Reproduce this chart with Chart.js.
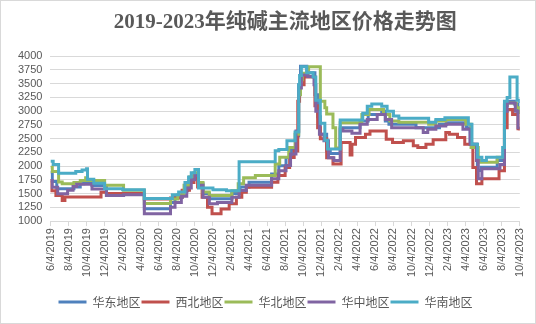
<!DOCTYPE html>
<html>
<head>
<meta charset="utf-8">
<title>纯碱价格走势</title>
<script src="https://cdn.jsdelivr.net/npm/chart.js@4.4.0/dist/chart.umd.min.js"></script>
<style>
  html, body { margin: 0; padding: 0; background: #fff; }
  #wrap { position: relative; width: 536px; height: 324px; box-sizing: border-box; border: 1px solid #d9d9d9; }
</style>
</head>
<body>
<div id="wrap"><canvas id="priceChart"></canvas></div>
<script>
// x = months since 2019-06-04, y = price (元/吨); each point holds until the next one
const dateLabels = [
  '6/4/2019', '8/4/2019', '10/4/2019', '12/4/2019',
  '2/4/2020', '4/4/2020', '6/4/2020', '8/4/2020', '10/4/2020', '12/4/2020',
  '2/4/2021', '4/4/2021', '6/4/2021', '8/4/2021', '10/4/2021', '12/4/2021',
  '2/4/2022', '4/4/2022', '6/4/2022', '8/4/2022', '10/4/2022', '12/4/2022',
  '2/4/2023', '4/4/2023', '6/4/2023', '8/4/2023', '10/4/2023'
];

const regionNames = ['华东地区', '西北地区', '华北地区', '华中地区', '华南地区'];
const regionColors = ['#4f81bd', '#c0504d', '#9bbb59', '#8064a2', '#4bacc6'];

// 华东
const eastChina = [
  [0, 1890], [0.2, 1720], [0.7, 1590], [2.6, 1620], [3.3, 1680], [3.7, 1700], [4.6, 1645],
  [6.2, 1465], [8.1, 1500], [10.4, 1225], [13.3, 1340], [13.8, 1430], [14.6, 1550], [15.2, 1700],
  [15.7, 1820], [16.0, 1860], [16.4, 1680], [16.9, 1500], [17.6, 1405], [20.1, 1500], [21.0, 1620],
  [22.0, 1705], [24.5, 1857], [25.3, 2007], [26.1, 2157], [26.7, 2300], [27.2, 2550], [27.5, 3480],
  [27.7, 3815], [28.4, 3700], [29.3, 3300], [29.6, 2900], [29.9, 2580], [30.6, 2280], [31.0, 2230],
  [32.1, 2700], [34.3, 2820], [35.2, 2940], [36.7, 3000], [37.1, 2820], [37.5, 2760], [40.5, 2700],
  [43.1, 2760], [43.9, 2790], [46.1, 2700], [46.5, 2400], [47.3, 1920], [47.7, 1980], [49.5, 2100],
  [50.3, 3100], [50.6, 3180], [51.4, 3130], [51.8, 2990], [52.0, 2990]
];

// 西北
const northwest = [
  [0, 1740], [0.1, 1550], [0.6, 1465], [1.3, 1375], [1.6, 1440], [5.6, 1525], [6.2, 1500],
  [10.4, 1400], [13.3, 1420], [14.2, 1440], [14.6, 1560], [15.4, 1700], [15.9, 1780], [16.3, 1620],
  [16.8, 1434], [17.4, 1253], [17.9, 1133], [18.9, 1220], [19.8, 1315], [20.6, 1434], [21.2, 1525],
  [21.7, 1615], [24.5, 1705], [25.2, 1830], [26.0, 1976], [26.5, 2157], [27.0, 2277], [27.4, 3180],
  [27.6, 3480], [28.1, 3620], [29.3, 3100], [29.6, 2700], [29.9, 2500], [30.6, 2150], [31.3, 2040],
  [32.2, 2430], [33.2, 2200], [33.4, 2400], [33.8, 2520], [34.9, 2580], [35.4, 2640], [37.2, 2490],
  [37.9, 2430], [39.1, 2460], [40.2, 2370], [40.7, 2340], [41.6, 2400], [42.4, 2480], [43.8, 2610],
  [44.2, 2580], [45.1, 2520], [45.9, 2400], [46.8, 1976], [47.2, 1680], [47.8, 1770], [49.7, 1915],
  [50.3, 2700], [50.6, 3030], [51.2, 2940], [51.8, 2680], [52.0, 2650]
];

// 华北
const northChina = [
  [0, 1980], [0.2, 1900], [0.9, 1710], [1.3, 1680], [2.6, 1700], [3.3, 1740], [3.9, 1790],
  [4.1, 1740], [6.0, 1650], [8.1, 1560], [10.4, 1320], [13.3, 1400], [14.1, 1480], [14.8, 1650],
  [15.4, 1800], [15.9, 1880], [16.4, 1700], [16.9, 1530], [17.6, 1465], [20.1, 1550], [20.8, 1680],
  [21.4, 1790], [22.7, 1830], [24.9, 2040], [25.4, 2160], [26.4, 2340], [27.1, 2580], [27.5, 3300],
  [27.7, 3570], [27.9, 3690], [28.6, 3810], [29.9, 3180], [30.4, 3060], [30.6, 2950], [31.3, 2700],
  [31.6, 2330], [32.1, 2790], [34.5, 2940], [35.3, 3030], [36.9, 2940], [37.6, 2820], [38.6, 2800],
  [41.9, 2760], [42.7, 2820], [43.8, 2850], [46.0, 2760], [46.6, 2340], [47.4, 2100], [47.6, 2070],
  [49.5, 2160], [50.3, 3120], [50.6, 3150], [51.6, 3060], [52.0, 2950]
];

// 华中
const centralChina = [
  [0, 1740], [0.2, 1615], [0.8, 1495], [1.9, 1560], [2.5, 1630], [2.9, 1670], [4.6, 1585],
  [6.2, 1465], [8.1, 1480], [10.4, 1135], [13.3, 1250], [13.8, 1340], [14.5, 1450], [15.1, 1600],
  [15.6, 1750], [16.0, 1830], [16.4, 1650], [16.9, 1434], [17.6, 1315], [18.5, 1340], [20.1, 1434],
  [20.9, 1555], [21.7, 1650], [24.5, 1770], [25.3, 1915], [26.1, 2010], [26.6, 2220], [27.2, 2640],
  [27.5, 3420], [27.8, 3660], [28.5, 3630], [29.2, 3480], [29.4, 3000], [29.8, 2580], [30.3, 2460],
  [30.8, 2150], [31.4, 2100], [32.1, 2670], [32.4, 2640], [33.4, 2600], [34.3, 2760], [35.1, 2850],
  [36.2, 2940], [37.1, 2850], [37.8, 2700], [41.3, 2610], [41.8, 2670], [42.7, 2730], [43.8, 2760],
  [45.7, 2670], [46.5, 2400], [47.2, 2100], [47.4, 1770], [47.8, 1950], [49.8, 2030], [50.3, 3000],
  [50.6, 3150], [51.5, 3000], [51.8, 2700], [52.0, 2700]
];

// 华南
const southChina = [
  [0, 2090], [0.3, 2030], [0.9, 1870], [2.8, 1900], [3.5, 1930], [4.0, 1950], [4.1, 1760],
  [4.8, 1690], [6.0, 1590], [8.0, 1570], [10.4, 1410], [13.5, 1480], [14.2, 1530], [14.9, 1700],
  [15.3, 1800], [15.6, 1880], [16.0, 1940], [16.4, 1600], [18.0, 1570], [19.5, 1550], [20.9, 2080],
  [24.9, 2280], [25.3, 2300], [26.2, 2460], [27.1, 2620], [27.5, 3480], [27.6, 3650], [27.8, 3810],
  [28.4, 3700], [29.1, 3620], [29.4, 3200], [29.9, 2780], [30.4, 2470], [30.7, 2310], [32.1, 2840],
  [34.6, 2960], [35.1, 3090], [35.6, 3130], [36.7, 3090], [37.3, 3000], [38.0, 2910], [38.6, 2870],
  [41.9, 2800], [42.7, 2850], [43.7, 2880], [46.3, 2760], [46.7, 2400], [47.3, 2160], [47.8, 2100],
  [48.3, 2160], [50.1, 2340], [50.3, 3180], [50.6, 3250], [50.9, 3620], [51.7, 3200], [52.0, 3150]
];

const regionSeries = [eastChina, northwest, northChina, centralChina, southChina];

const textColor = '#595959';
const gridColor = '#d9d9d9';

const datasets = regionSeries.map((series, i) => ({
  label: regionNames[i],
  data: series.map(([m, price]) => ({ x: m, y: price })),
  borderColor: regionColors[i],
  backgroundColor: regionColors[i],
  borderWidth: 3,
  pointRadius: 0,
  stepped: true,
  order: regionSeries.length - 1 - i   // 华南 drawn last, on top
}));

const ctx = document.getElementById('priceChart').getContext('2d');
const priceChart = new Chart(ctx, {
  type: 'line',
  data: { datasets },
  options: {
    responsive: true,
    maintainAspectRatio: false,
    animation: false,
    layout: { padding: { top: 0, right: 14, bottom: 5, left: 9 } },
    plugins: {
      title: {
        display: true,
        fullSize: false,
        text: '2019-2023年纯碱主流地区价格走势图',
        color: textColor,
        font: { family: "'Liberation Serif', 'Noto Sans CJK SC'", size: 21, weight: 'bold' },
        padding: { top: 9, bottom: 21 }
      },
      legend: {
        position: 'bottom',
        labels: {
          usePointStyle: true,
          pointStyle: 'line',
          pointStyleWidth: 28,
          padding: 1,
          color: textColor,
          font: { family: "'Noto Sans CJK SC'", size: 12 },
          sort: (a, b) => a.datasetIndex - b.datasetIndex
        }
      },
      tooltip: { enabled: false }
    },
    scales: {
      x: {
        type: 'linear',
        min: 0,
        max: 52,
        afterFit: (scale) => { scale.height += 16; },
        ticks: {
          stepSize: 2,
          autoSkip: false,
          minRotation: 90,
          maxRotation: 90,
          padding: 2,
          color: textColor,
          font: { family: "'Liberation Sans'", size: 11 },
          callback: (value) => dateLabels[value / 2]
        },
        grid: { drawOnChartArea: false, drawTicks: true, tickLength: 5, color: gridColor },
        border: { color: gridColor }
      },
      y: {
        min: 1000,
        max: 4000,
        ticks: {
          stepSize: 250,
          autoSkip: false,
          padding: 8,
          color: textColor,
          font: { family: "'Liberation Sans'", size: 11 },
          callback: (value) => String(value)
        },
        grid: { color: gridColor, drawTicks: false },
        border: { display: false }
      }
    }
  }
});
</script>
</body>
</html>
